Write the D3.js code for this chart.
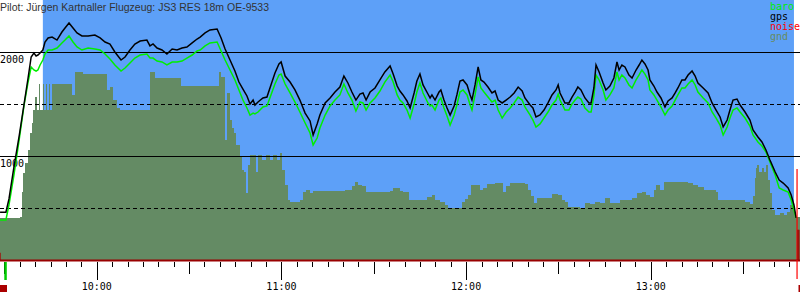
<!DOCTYPE html>
<html>
<head>
<meta charset="utf-8">
<script src="https://cdn.jsdelivr.net/npm/d3@7"></script>
<style>
  body { margin: 0; background: #fff; }
  svg { display: block; }
</style>
</head>
<body>
<div id="chart"></div>
<script>
// flight title
var title = "Pilot: Jürgen Kartnaller Flugzeug: JS3 RES 18m OE-9533";

// time of each fix, in minutes after 09:00
var flightMinutes = [
  28.6, 30.5, 31.5, 33.1, 34.8, 36.4, 37.7, 38.7, 39.6, 40.3, 40.9, 41.6, 42.5, 43.2, 44.2, 45.5, 47.1, 48.7, 49.7, 51.0,
  52.3, 53.6, 55.2, 57.2, 59.4, 61.1, 62.7, 64.3, 65.9, 67.9, 69.2, 70.8, 72.4, 74.1, 76.3, 77.3, 78.3, 79.6, 81.2, 82.8,
  84.5, 86.1, 87.7, 89.3, 91.0, 92.6, 93.6, 95.2, 96.8, 99.1, 100.4, 101.7, 103.3, 104.9, 106.2, 107.5, 108.8, 109.8, 110.8, 111.4,
  112.4, 114.0, 115.3, 116.6, 117.9, 119.2, 119.9, 121.2, 122.8, 124.4, 126.0, 127.7, 129.3, 130.3, 131.6, 132.5, 134.2, 135.8, 137.4, 139.0,
  140.3, 141.6, 142.9, 144.2, 145.5, 146.5, 147.5, 148.8, 150.4, 152.0, 153.6, 155.3, 156.3, 157.6, 158.5, 159.5, 160.8, 161.8, 163.1, 164.0,
  165.0, 166.0, 167.6, 168.3, 168.9, 169.9, 171.2, 171.8, 172.8, 173.8, 174.8, 176.1, 177.0, 178.0, 179.0, 180.3, 181.3, 181.9, 182.9, 183.9,
  184.8, 185.8, 187.1, 188.4, 189.4, 190.4, 191.7, 193.0, 194.3, 195.6, 196.9, 198.2, 199.1, 200.8, 201.7, 202.7, 204.0, 205.3, 206.6, 207.9,
  209.2, 209.9, 210.5, 212.1, 213.4, 214.4, 215.4, 216.3, 217.3, 218.6, 219.9, 220.6, 221.5, 222.2, 223.2, 224.5, 225.4, 226.7, 228.0, 229.0,
  229.7, 230.6, 231.6, 232.9, 233.9, 235.2, 236.2, 237.1, 238.1, 239.1, 239.7, 241.0, 242.0, 243.3, 244.6, 245.6, 246.9, 247.9, 248.8, 250.1,
  251.1, 252.1, 253.4, 254.4, 255.3, 257.0, 258.6, 259.9, 261.2, 262.5, 263.5, 264.8, 265.7, 266.7, 268.0, 269.0, 270.6, 272.2, 273.2, 274.8,
  276.1, 277.4, 278.7, 280.4, 281.7, 283.0, 284.6, 285.6, 286.5, 287.2
];

// gps altitude (m)
var gpsAlt = [
  460, 460, 587, 894, 1192, 1500, 1750, 1952, 1990, 1962, 1971, 1990, 2019, 2096, 2135, 2144, 2115, 2192, 2231, 2279,
  2231, 2183, 2154, 2154, 2163, 2135, 2096, 2077, 2000, 1923, 1952, 2019, 2077, 2106, 2115, 2058, 2077, 2038, 2019, 1981,
  2029, 2019, 2038, 2048, 2087, 2125, 2144, 2183, 2212, 2221, 2135, 2029, 1923, 1817, 1711, 1644, 1577, 1500, 1538, 1490,
  1519, 1558, 1567, 1683, 1798, 1885, 1904, 1769, 1711, 1635, 1538, 1413, 1337, 1202, 1308, 1394, 1510, 1558, 1615, 1663,
  1769, 1702, 1615, 1538, 1596, 1606, 1538, 1615, 1654, 1731, 1808, 1865, 1788, 1673, 1625, 1587, 1529, 1462, 1606, 1721,
  1788, 1683, 1596, 1558, 1587, 1538, 1615, 1635, 1538, 1462, 1394, 1481, 1587, 1721, 1731, 1683, 1587, 1538, 1683, 1856,
  1731, 1711, 1663, 1606, 1625, 1538, 1510, 1538, 1567, 1606, 1663, 1625, 1558, 1490, 1462, 1375, 1394, 1442, 1510, 1587,
  1635, 1683, 1606, 1510, 1510, 1567, 1615, 1663, 1635, 1558, 1510, 1510, 1654, 1875, 1808, 1702, 1635, 1673, 1750, 1904,
  1827, 1875, 1856, 1779, 1750, 1827, 1875, 1923, 1885, 1827, 1731, 1673, 1615, 1558, 1471, 1529, 1558, 1606, 1654, 1731,
  1731, 1779, 1817, 1769, 1702, 1654, 1606, 1510, 1442, 1375, 1279, 1346, 1442, 1538, 1548, 1490, 1423, 1346, 1250, 1183,
  1135, 1058, 962, 846, 769, 740, 692, 625, 529, 404
];

// barometric altitude (m)
var baroAlt = [
  385, 385, 529, 817, 1154, 1490, 1711, 1856, 1827, 1817, 1827, 1875, 1923, 1981, 2019, 2019, 2038, 2087, 2115, 2154,
  2096, 2048, 2019, 2038, 2029, 2019, 1981, 1933, 1875, 1817, 1846, 1894, 1942, 1971, 1981, 1942, 1942, 1913, 1904, 1875,
  1904, 1904, 1913, 1942, 1971, 2010, 2019, 2058, 2087, 2096, 2010, 1923, 1827, 1731, 1635, 1538, 1462, 1394, 1413, 1404,
  1423, 1471, 1481, 1587, 1692, 1779, 1788, 1692, 1606, 1519, 1423, 1317, 1221, 1106, 1173, 1269, 1394, 1481, 1538, 1587,
  1692, 1606, 1538, 1433, 1519, 1510, 1442, 1510, 1558, 1625, 1711, 1779, 1711, 1587, 1538, 1510, 1442, 1365, 1500, 1615,
  1702, 1606, 1510, 1481, 1490, 1442, 1538, 1558, 1462, 1385, 1298, 1394, 1490, 1615, 1635, 1587, 1490, 1442, 1587, 1760,
  1654, 1615, 1567, 1519, 1538, 1442, 1365, 1423, 1462, 1510, 1567, 1538, 1471, 1394, 1346, 1279, 1308, 1365, 1423, 1490,
  1538, 1596, 1538, 1442, 1442, 1500, 1538, 1567, 1548, 1462, 1423, 1423, 1577, 1779, 1731, 1635, 1538, 1587, 1654, 1808,
  1731, 1779, 1750, 1683, 1654, 1731, 1779, 1827, 1788, 1731, 1635, 1587, 1538, 1471, 1394, 1442, 1481, 1538, 1587, 1654,
  1654, 1692, 1731, 1683, 1615, 1558, 1510, 1423, 1365, 1298, 1202, 1279, 1365, 1442, 1462, 1423, 1365, 1288, 1202, 1135,
  1096, 1038, 942, 817, 692, 673, 654, 577, 481, 404
];

// ground elevation under the track
var gndMinutes = [
  28.6, 35.1, 35.7, 36.1, 36.7, 37.7, 38.3, 39.0, 39.3, 40.0, 40.6, 41.3, 41.6, 42.5, 42.9, 43.5, 43.8, 44.5, 44.8, 45.5,
  52.0, 53.0, 55.5, 63.3, 64.3, 65.3, 66.6, 67.6, 77.3, 78.9, 87.4, 99.7, 100.4, 101.7, 102.3, 103.3, 103.9, 104.6, 105.2, 106.5,
  107.2, 107.8, 108.5, 109.1, 109.8, 111.7, 112.4, 113.7, 115.0, 116.3, 117.3, 118.6, 119.5, 120.2, 121.2, 122.1, 122.8, 126.0, 127.0, 128.0,
  129.3, 130.3, 140.6, 142.9, 143.9, 144.9, 146.2, 147.5, 155.3, 156.3, 158.5, 159.5, 161.4, 167.3, 168.9, 169.9, 171.5, 173.2, 174.1, 178.7,
  179.7, 180.6, 181.6, 184.5, 185.5, 186.8, 189.4, 192.0, 193.0, 194.3, 199.1, 200.1, 201.1, 202.1, 203.0, 207.9, 209.9, 211.1, 212.1, 213.1,
  217.0, 218.6, 220.3, 221.9, 223.5, 225.1, 226.7, 230.0, 233.9, 235.5, 237.1, 238.4, 239.7, 241.0, 241.7, 243.0, 244.3, 252.1, 253.7, 255.3,
  257.3, 261.2, 261.8, 270.6, 272.2, 273.2, 273.8, 274.2, 274.5, 275.2, 276.1, 276.8, 277.4, 278.1, 278.7, 279.4, 280.4, 282.0, 283.3, 284.3,
  285.2, 286.2, 286.9, 288.5
];
var gndAlt = [
  404, 413, 654, 837, 933, 1058, 1221, 1317, 1442, 1567, 1442, 1692, 1442, 1692, 1442, 1692, 1442, 1692, 1442, 1692,
  1587, 1808, 1788, 1635, 1663, 1538, 1462, 1442, 1808, 1750, 1673, 1808, 1760, 1154, 1606, 1346, 1269, 1221, 1106, 990,
  865, 846, 644, 913, 1010, 846, 1010, 962, 1010, 962, 1010, 962, 1029, 865, 721, 577, 558, 577, 654, 673,
  644, 663, 673, 711, 750, 721, 711, 654, 663, 692, 663, 654, 577, 606, 625, 577, 558, 529, 500, 558,
  587, 625, 721, 673, 692, 731, 740, 654, 711, 740, 731, 673, 615, 548, 596, 635, 625, 577, 558, 510,
  500, 548, 538, 558, 548, 596, 548, 577, 596, 644, 654, 625, 606, 673, 721, 673, 750, 740, 721, 702,
  673, 654, 577, 558, 538, 615, 788, 885, 913, 846, 885, 846, 913, 769, 644, 481, 433, 452, 433, 462,
  529, 481, 413, 413
];

// engine noise samples (only non-zero at the very ends)
var noiseMinutes = [28.6, 287.5, 287.8, 288.1];
var noiseLevel = [70, 875, 290, 290];

// gridlines and labels
var solidGrid = [1000, 2000];
var dashedGrid = [500, 1500];
var legendNames = ["baro", "gps", "noise", "gnd"];
var legendColors = ["#00ee00", "#000000", "#ff0000", "#678b5f"];

// phases of the flight, minutes after 09:00
var viewStart = 28.58, viewEnd = 288.46;
var releaseAt = 42.5, landingAt = 286.5;
var takeoffAt = 30.3, landingMarkAt = 287.5;

var width = 800, height = 300, plotBottom = 260;

var base = new Date(2019, 6, 14, 9, 0, 0);
function toDate(m) { return new Date(base.getTime() + m * 60000); }

var x = d3.scaleTime()
    .domain([toDate(viewStart), toDate(viewEnd)])
    .range([0, width]);
var y = d3.scaleLinear()
    .domain([0, 2500])
    .range([plotBottom, 0]);

var svg = d3.select("#chart").append("svg")
    .attr("width", width)
    .attr("height", height);

// white background, blue sky while free flying
svg.append("rect")
    .attr("width", width).attr("height", height)
    .attr("fill", "#ffffff");
svg.append("rect")
    .attr("x", x(toDate(releaseAt)))
    .attr("y", 0)
    .attr("width", x(toDate(landingAt)) - x(toDate(releaseAt)))
    .attr("height", plotBottom)
    .attr("fill", "#5da0f8");

// ground area
var gnd = gndMinutes.map(function(m, i) { return {t: toDate(m), v: gndAlt[i]}; });
svg.append("path")
    .datum(gnd)
    .attr("fill", "#648b64")
    .attr("shape-rendering", "crispEdges")
    .attr("d", d3.area()
        .curve(d3.curveStepAfter)
        .x(function(d) { return x(d.t); })
        .y0(y(0))
        .y1(function(d) { return y(d.v); }));

// gridlines
svg.selectAll(".grid-solid")
    .data(solidGrid)
    .enter().append("line")
    .attr("x1", 0).attr("x2", width)
    .attr("y1", function(d) { return Math.round(y(d)) + 0.5; })
    .attr("y2", function(d) { return Math.round(y(d)) + 0.5; })
    .attr("stroke", "#000")
    .attr("stroke-width", 1);
svg.selectAll(".grid-dash")
    .data(dashedGrid)
    .enter().append("line")
    .attr("x1", 0).attr("x2", width)
    .attr("y1", function(d) { return Math.round(y(d)) + 0.5; })
    .attr("y2", function(d) { return Math.round(y(d)) + 0.5; })
    .attr("stroke", "#000")
    .attr("stroke-dasharray", "4,3")
    .attr("stroke-width", 1);

// altitude labels
svg.selectAll(".ylabel")
    .data(solidGrid.slice().reverse())
    .enter().append("text")
    .attr("x", 0)
    .attr("y", function(d) { return y(d) + 11; })
    .style("font-family", "DejaVu Sans Mono, monospace")
    .style("font-size", "10px")
    .style("fill", "#000")
    .text(function(d) { return d; });

// altitude traces
var baro = flightMinutes.map(function(m, i) { return {t: toDate(m), v: baroAlt[i]}; });
var gps = flightMinutes.map(function(m, i) { return {t: toDate(m), v: gpsAlt[i]}; });
var line = d3.line()
    .x(function(d) { return x(d.t); })
    .y(function(d) { return y(d.v); });

svg.append("path")
    .datum(baro)
    .attr("fill", "none")
    .attr("stroke", "#00ee00")
    .attr("stroke-width", 1.5)
    .attr("d", line);
svg.append("path")
    .datum(gps)
    .attr("fill", "none")
    .attr("stroke", "#000")
    .attr("stroke-width", 1.5)
    .attr("d", line);

// noise bars
svg.selectAll(".noise")
    .data(noiseMinutes)
    .enter().append("line")
    .attr("x1", function(d) { return x(toDate(d)); })
    .attr("x2", function(d) { return x(toDate(d)); })
    .attr("y1", y(0))
    .attr("y2", function(d, i) { return y(noiseLevel[i]); })
    .attr("stroke", function(d, i) { return i === 1 ? "#ff0000" : "#aa0000"; })
    .attr("stroke-width", 1.2);

// time axis
svg.append("line")
    .attr("x1", 0).attr("x2", width)
    .attr("y1", plotBottom + 0.5).attr("y2", plotBottom + 0.5)
    .attr("stroke", "#990000")
    .attr("stroke-width", 2);

var ticks = x.ticks(d3.timeMinute.every(5));
svg.selectAll(".tick")
    .data(ticks)
    .enter().append("line")
    .attr("x1", function(d) { return Math.round(x(d)) + 0.5; })
    .attr("x2", function(d) { return Math.round(x(d)) + 0.5; })
    .attr("y1", plotBottom + 2)
    .attr("y2", function(d) {
        var mm = d.getMinutes();
        if (mm === 0) return plotBottom + 20;
        if (mm === 30) return plotBottom + 14;
        return plotBottom + 7;
    })
    .attr("stroke", "#000")
    .attr("stroke-width", 1);

svg.selectAll(".xlabel")
    .data(ticks.filter(function(d) { return d.getMinutes() === 0; }))
    .enter().append("text")
    .attr("x", function(d) { return x(d); })
    .attr("y", 290)
    .attr("text-anchor", "middle")
    .style("font-family", "DejaVu Sans Mono, monospace")
    .style("font-size", "10px")
    .style("fill", "#000")
    .text(d3.timeFormat("%H:%M"));

// takeoff / landing markers below the axis
svg.append("rect")
    .attr("x", x(toDate(takeoffAt)) - 1)
    .attr("y", plotBottom + 2)
    .attr("width", 2.5).attr("height", 18)
    .attr("fill", "#00cc00");
svg.append("line")
    .attr("x1", x(toDate(landingMarkAt))).attr("x2", x(toDate(landingMarkAt)))
    .attr("y1", plotBottom).attr("y2", plotBottom + 19)
    .attr("stroke", "#ff0000")
    .attr("stroke-width", 1.2);
svg.append("rect")
    .attr("x", 0).attr("y", 285)
    .attr("width", 7).attr("height", 7)
    .attr("fill", "#aa0000");
svg.append("rect")
    .attr("x", x(toDate(viewEnd)) - 1.5).attr("y", 285)
    .attr("width", 1.5).attr("height", 7)
    .attr("fill", "#aa0000");

// title
svg.append("text")
    .attr("x", 0)
    .attr("y", 10.5)
    .style("font-family", "Liberation Sans, Arial, sans-serif")
    .style("font-size", "10.5px")
    .style("fill", "#333")
    .text(title);

// legend
svg.selectAll(".legend")
    .data(legendNames)
    .enter().append("text")
    .attr("x", 770)
    .attr("y", function(d, i) { return 10 + i * 10; })
    .style("font-family", "DejaVu Sans Mono, monospace")
    .style("font-size", "10px")
    .style("fill", function(d, i) { return legendColors[i]; })
    .text(function(d) { return d; });
</script>
</body>
</html>
